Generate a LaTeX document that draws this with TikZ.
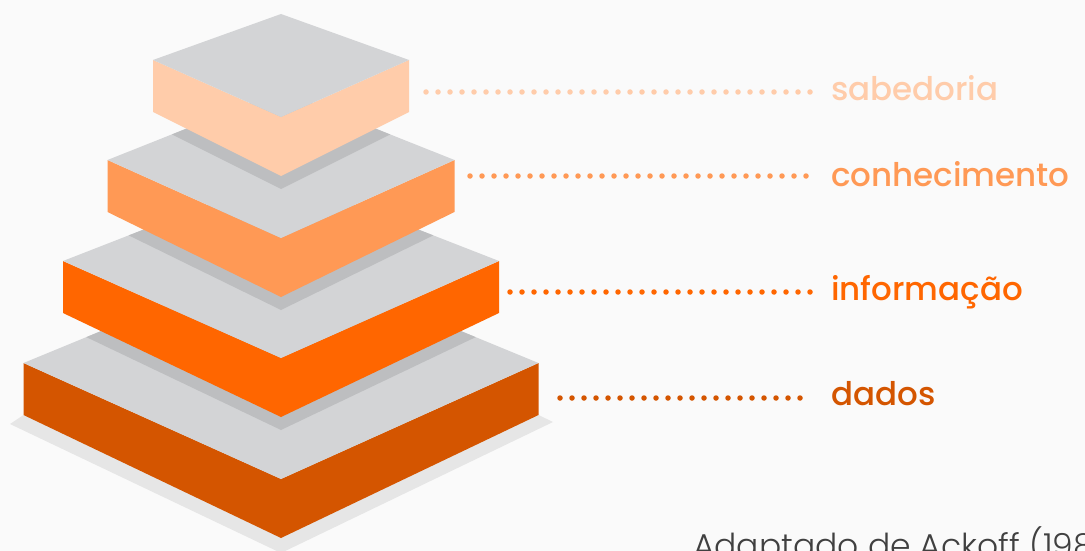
\documentclass[tikz,border=0pt]{standalone}
\usepackage{fontspec}
\setmainfont{Poppins}
\newfontfamily\tierfont{Poppins Medium}
\newfontfamily\thinfont{Poppins Light}
\usetikzlibrary{positioning}

\definecolor{bggray}{HTML}{FAFAFA}
\definecolor{topgray}{HTML}{D3D4D6}
\definecolor{shadowgray}{HTML}{BDBEC0}
\definecolor{groundgray}{HTML}{E6E6E6}
\definecolor{dadosclr}{HTML}{D45500}
\definecolor{infoclr}{HTML}{FF6600}
\definecolor{conhclr}{HTML}{FF9955}
\definecolor{sabclr}{HTML}{FFCCAA}

% corners of one slab: name, half width, corner y, front y, back y
\newcommand{\slabpoints}[5]{%
  \coordinate (#1-l) at (281-#2,#3);
  \coordinate (#1-r) at (281+#2,#3);
  \coordinate (#1-f) at (281,#4);
  \coordinate (#1-b) at (281,#5);
  \coordinate (#1-lb) at (281-#2,#3+52);
  \coordinate (#1-rb) at (281+#2,#3+52);
  \coordinate (#1-fb) at (281,#4+59);
}
\newcommand{\slab}[1]{%
  \fill[#1clr] (#1-l) -- (#1-f) -- (#1-r) -- (#1-rb) -- (#1-fb) -- (#1-lb) -- cycle;
  \fill[topgray] (#1-l) -- (#1-b) -- (#1-r) -- (#1-f) -- cycle;
}
% shadow of the upper slab on the top of the lower one
\newcommand{\slabshadow}[2]{%
  \begin{scope}
    \clip (#1-l) -- (#1-b) -- (#1-r) -- (#1-f) -- cycle;
    \fill[shadowgray] ([yshift=-13pt]#2-lb) -- ([yshift=-13pt]#2-fb)
      -- ([yshift=-13pt]#2-rb) -- ([yshift=-65pt]#2-b) -- cycle;
  \end{scope}
}

\begin{document}
\begin{tikzpicture}[x=1pt, y=-1pt,
    tiertext/.style={anchor=base west, inner sep=0pt, font=\tierfont\fontsize{32.5}{33}\selectfont},
    leader/.style={line width=5.5pt, line cap=round, dash pattern=on 0pt off 12pt, shorten >=20pt}]
  \fill[bggray] (0,0) rectangle (1085,551);
  \clip (0,0) rectangle (1085,551);

  \slabpoints{dados}{257.5}{363}{479}{257}
  \slabpoints{info}{218}{261}{358}{176}
  \slabpoints{conh}{173.5}{160}{238}{91}
  \slabpoints{sab}{128}{60}{117}{14}

  % ground shadow
  \fill[groundgray] (dados-lb) -- (10,424) -- (281,553) -- (553,422) -- (dados-rb) -- cycle;

  \slab{dados}
  \slabshadow{dados}{info}
  \slab{info}
  \slabshadow{info}{conh}
  \slab{conh}
  \slabshadow{conh}{sab}
  \slab{sab}

  % labels
  \node[tiertext, text=sabclr] (sab-lbl) at (831,100) {sabedoria};
  \node[tiertext, text=conhclr] (conh-lbl) at (831,186) {conhecimento};
  \node[tiertext, text=infoclr] (info-lbl) at (831,300) {informação};
  \node[tiertext, text=dadosclr] (dados-lbl) at (831,405) {dados};

  \coordinate (sab-dot) at (426,92);
  \coordinate (conh-dot) at (470,176);
  \coordinate (info-dot) at (510,292);
  \coordinate (dados-dot) at (560,398);

  \draw[leader, sabclr] (sab-dot) -- (sab-dot -| sab-lbl.west);
  \draw[leader, conhclr] (conh-dot) -- (conh-dot -| conh-lbl.west);
  \draw[leader, infoclr] (info-dot) -- (info-dot -| info-lbl.west);
  \draw[leader, dadosclr] (dados-dot) -- (dados-dot -| dados-lbl.west);

  \node[anchor=base west, inner sep=0pt, text=black!75, font=\thinfont\fontsize{33}{33}\selectfont]
    (source) at (693,557) {Adaptado de Ackoff (1989)};
\end{tikzpicture}
\end{document}
